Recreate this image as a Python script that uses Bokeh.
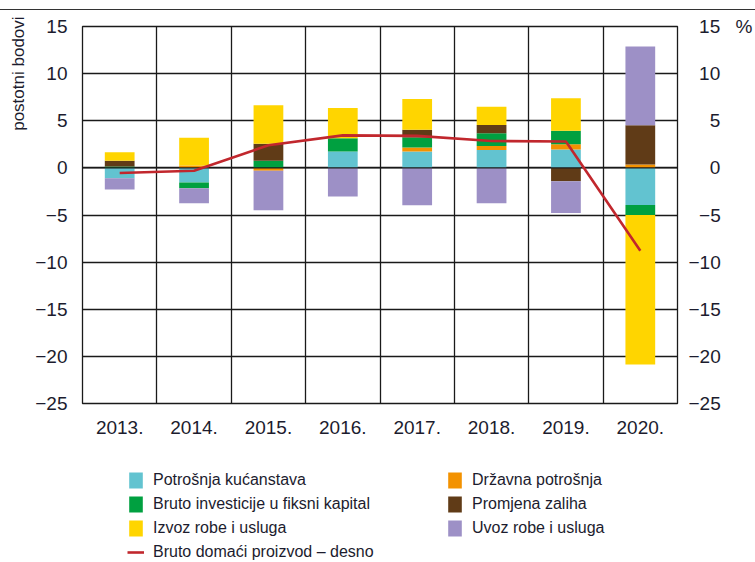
from bokeh.plotting import figure
from bokeh.layouts import column
from bokeh.models import (ColumnDataSource, FactorRange, Range1d, LinearAxis, FixedTicker,
                          Legend, LegendItem, Span)
from bokeh.embed import file_html
from bokeh.resources import INLINE

# ---------------- data ----------------
years = ["2013.", "2014.", "2015.", "2016.", "2017.", "2018.", "2019.", "2020."]
household = [-1.10, -1.55, 0.00, 1.75, 1.74, 1.90, 1.95, -3.95]
government = [0.00, 0.25, -0.30, 0.00, 0.43, 0.43, 0.55, 0.35]
investment = [0.15, -0.60, 0.75, 1.40, 1.06, 1.35, 1.45, -1.06]
inventories = [0.60, 0.00, 1.80, 0.00, 0.81, 0.88, -1.42, 4.18]
exports = [0.90, 2.95, 4.10, 3.20, 3.26, 1.92, 3.45, -15.86]
imports = [-1.20, -1.60, -4.20, -3.05, -3.97, -3.76, -3.38, 8.34]
gdp = [-0.55, -0.30, 2.40, 3.45, 3.40, 2.85, 2.80, -8.80]

y_ticks = [-25, -20, -15, -10, -5, 0, 5, 10, 15]
y_tick_labels = ["−25", "−20", "−15", "−10", "−5", "0", "5", "10", "15"]
y_tick_labels_right = ["−25", "−20", "−15", "−10", "\u2007−5", "\u2007\u20070", "\u2007\u20075", "\u200710", "\u200715"]

series_keys = ["household", "government", "investment", "inventories", "exports", "imports"]
series_vals = [household, government, investment, inventories, exports, imports]
series_names = ["Potrošnja kućanstava", "Državna potrošnja", "Bruto investicije u fiksni kapital",
                "Promjena zaliha", "Izvoz robe i usluga", "Uvoz robe i usluga"]
gdp_name = "Bruto domaći proizvod – desno"
y_label = "postotni bodovi"
pct_label = "%"

colors = ["#62C3D0", "#F39200", "#00A040", "#603B17", "#FFD500", "#9D90C6"]
gdp_color = "#C1272D"
text_color = "#1c1c2e"
FONT = "Liberation Sans"

# ---------------- source ----------------
data = {"year": years, "gdp": gdp}
for k, vals in zip(series_keys, series_vals):
    data[k + "_pos"] = [max(v, 0.0) for v in vals]
    data[k + "_neg"] = [min(v, 0.0) for v in vals]
src = ColumnDataSource(data)

p = figure(x_range=FactorRange(*years), y_range=Range1d(-25, 15),
           width=755, height=436, output_backend="svg", toolbar_location=None,
           min_border_left=82, min_border_right=73, min_border_top=16, min_border_bottom=43,
           margin=(9, 0, 0, 0))
p.extra_y_ranges = {"pct": Range1d(-25, 15)}
p.styles = {"border-top": "1px solid #333"}

pos_r = p.vbar_stack([k + "_pos" for k in series_keys], x="year", width=0.4,
                     color=colors, line_alpha=0, source=src)
neg_r = p.vbar_stack([k + "_neg" for k in series_keys], x="year", width=0.4,
                     color=colors, line_alpha=0, source=src)

zero = Span(location=0, dimension="width", line_color="#1a1a1a", line_width=1.3)
p.add_layout(zero)

gdp_r = p.line(x="year", y="gdp", source=src, y_range_name="pct",
               line_color=gdp_color, line_width=2.6, level="overlay")

# ---------------- axes & grid ----------------
def style_axis(ax, size="19px"):
    ax.axis_line_color = None
    ax.major_tick_line_color = None
    ax.minor_tick_line_color = None
    ax.major_tick_out = 0
    ax.major_tick_in = 0
    ax.major_label_text_font = FONT
    ax.major_label_text_font_size = size
    ax.major_label_text_color = text_color

style_axis(p.xaxis[0])
p.xaxis[0].major_label_standoff = 17

left = p.yaxis[0]
style_axis(left)
left.ticker = FixedTicker(ticks=y_ticks)
left.major_label_overrides = dict(zip(y_ticks, y_tick_labels))
left.major_label_standoff = 15

# unit label on the left, centred on the 10 mark
left_lab = LinearAxis(ticker=FixedTicker(ticks=[10]), major_label_overrides={10: y_label},
                      major_label_orientation="vertical", major_label_standoff=5)
style_axis(left_lab, "17px")
p.add_layout(left_lab, "left")

right = LinearAxis(y_range_name="pct", ticker=FixedTicker(ticks=y_ticks))
style_axis(right)
right.major_label_overrides = dict(zip(y_ticks, y_tick_labels_right))
right.major_label_standoff = 11
p.add_layout(right, "right")

# unit label on the right, level with the top mark
right_lab = LinearAxis(y_range_name="pct", ticker=FixedTicker(ticks=[15]),
                       major_label_overrides={15: pct_label}, major_label_standoff=12)
style_axis(right_lab)
p.add_layout(right_lab, "right")

p.ygrid.ticker = FixedTicker(ticks=y_ticks)
p.ygrid.grid_line_color = "#1a1a1a"
p.ygrid.grid_line_width = 1.3
p.xgrid.ticker = FixedTicker(ticks=[1, 2, 3, 4, 5, 6, 7])
p.xgrid.grid_line_color = "#1a1a1a"
p.xgrid.grid_line_width = 1.3
p.outline_line_color = "#1a1a1a"
p.outline_line_width = 1.3

# ---------------- legend (strip below the chart) ----------------
lg = figure(width=755, height=116, output_backend="svg", toolbar_location=None,
            x_range=FactorRange(*years), y_range=Range1d(100, 101),
            x_axis_location=None, y_axis_location=None, min_border=0)
lg.grid.visible = False
lg.outline_line_color = None
key_renderers = [lg.vbar(x="year", top=k + "_pos", width=0.4, color=c, line_alpha=0, source=src)
                 for k, c in zip(series_keys, colors)]
key_line = lg.line(x="year", y="gdp", line_color=gdp_color, line_width=2.6, source=src)

order = [0, 2, 4, None, 1, 3, 5]
items = []
for i in order:
    if i is None:
        items.append(LegendItem(label=gdp_name, renderers=[key_line]))
    else:
        items.append(LegendItem(label=series_names[i], renderers=[key_renderers[i]]))

leg = Legend(items=items, location=(45, -1), orientation="vertical", nrows=4,
             glyph_width=17, glyph_height=20, label_height=20, label_width=289,
             spacing=4, label_standoff=9, padding=0, margin=0,
             border_line_color=None, background_fill_alpha=0,
             label_text_font=FONT, label_text_font_size="16px",
             label_text_color=text_color)
lg.add_layout(leg)

layout = column(p, lg, spacing=0)
open("out.html", "w").write(file_html(layout, INLINE))
